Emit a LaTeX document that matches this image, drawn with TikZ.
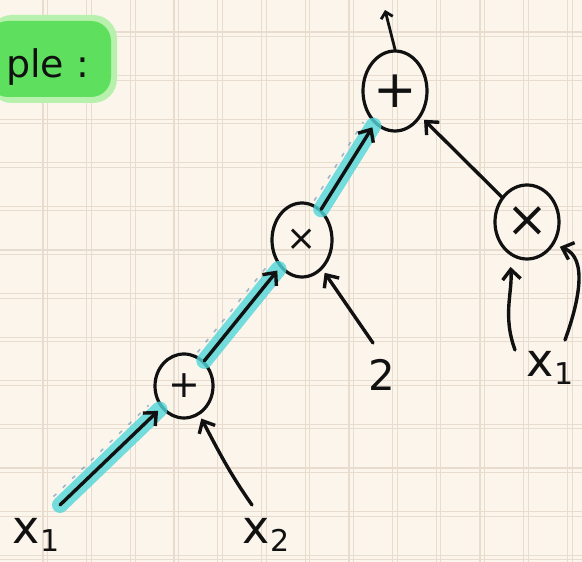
\documentclass[tikz,border=0pt]{standalone}
\usepackage{fontspec}
\setmainfont{DejaVu Sans}
\usetikzlibrary{arrows.meta,shapes.geometric}
\definecolor{paper}{HTML}{FBF5EC}
\definecolor{gridc}{HTML}{E8DCCF}
\definecolor{hlgreen}{HTML}{5EE05E}
\definecolor{hlgreenl}{HTML}{B8F0AE}
\definecolor{hlcyan}{HTML}{52D6D8}
\definecolor{hldash}{HTML}{6A8FB8}
\definecolor{ink}{HTML}{111111}
\newcommand{\fs}[1]{\fontsize{#1}{#1}\selectfont}
\newcommand{\varsub}[2]{x\raisebox{-8pt}{\fs{#1}#2}}
\begin{document}
\begin{tikzpicture}[x=1pt,y=1pt,
  opnode/.style={ellipse, draw=ink, line width=3.2pt, inner sep=0pt, text=ink},
  lbl/.style={inner sep=0pt, text=ink},
  arr/.style={draw=ink, line width=3.4pt, line cap=round, line join=round,
    -{Straight Barb[length=10pt,width=18pt]}, shorten >=4pt},
  smallarr/.style={draw=ink, line width=2.8pt, line cap=round,
    -{Straight Barb[length=6pt,width=12pt]}},
  hl/.style={draw=hlcyan, line width=16pt, line cap=round, opacity=0.8, shorten >=2pt},
  hldots/.style={draw=hldash, line width=1.6pt, dash pattern=on 4pt off 9pt, opacity=0.6,
    shorten >=6pt, shorten <=2pt},
]
\fill[paper] (0,0) rectangle (582,562);
\useasboundingbox (0,0) rectangle (582,562);
% grid paper
\foreach \k in {0,...,12} {
  \draw[gridc, line width=1.3pt] ({43+43.7*\k},0) -- ++(0,562);
  \draw[gridc, line width=0.8pt] ({47.5+43.7*\k},0) -- ++(0,562);
  \draw[gridc, line width=1.3pt] (0,{530-43.6*\k}) -- ++(582,0);
  \draw[gridc, line width=0.8pt] (0,{525.5-43.6*\k}) -- ++(582,0);
}
% green highlight
\fill[hlgreenl, rounded corners=24pt] (-12,459) rectangle (117,547);
\fill[hlgreen, rounded corners=20pt] (-12,465) rectangle (111,541);
\node[lbl, anchor=base west, font=\fs{38}] (ple) at (6,484) {ple :};

% operation nodes
\node[opnode, minimum width=64pt, minimum height=80pt, font=\fs{52}] (top) at (395,471) {+};
\node[opnode, minimum width=60pt, minimum height=74pt, font=\fs{36}] (m1) at (302,322) {×};
\node[opnode, minimum width=64pt, minimum height=74pt, font=\fs{50}] (r1) at (527,340) {×};
\node[opnode, minimum width=58pt, minimum height=64pt, font=\fs{38}] (p1) at (184,176) {+};

% labels
\node[lbl, font=\fs{46}] (x1l) at (36,27) {\varsub{30}{1}};
\node[lbl, font=\fs{46}] (x2l) at (266,27) {\varsub{30}{2}};
\node[lbl, font=\fs{42}] (two) at (382,187) {2};
\node[lbl, font=\fs{46}] (x1r) at (550,194) {\varsub{30}{1}};

% free ends of connectors
\coordinate (t1) at (60,57);
\coordinate (t2) at (373,219);
\coordinate (t3) at (252,57);
\coordinate (t4) at (515,212);
\coordinate (t5) at (565,222);
\coordinate (outp) at (385,552);

% cyan highlight of the path
\draw[hl] (t1) -- (p1);
\draw[hl] (p1) -- (m1);
\draw[hl] (m1) -- (top);
\begin{scope}[transform canvas={shift={(-8pt,7pt)}}]
  \draw[hldots] (t1) -- (p1);
  \draw[hldots] (p1) -- (m1);
  \draw[hldots] (m1) -- (top);
\end{scope}

% connectors
\draw[arr] (t1) -- (p1);
\draw[arr] (p1) -- (m1);
\draw[arr] (m1) -- (top);
\draw[arr] (r1) -- (top);
\draw[arr] (t2) -- (m1);
\draw[arr] (t3) to[out=125, in=-62] (p1);
\draw[arr, shorten >=12pt] (t4) to[out=110, in=-85] (r1.-118);
\draw[arr, shorten >=6pt] (t5) to[out=70, in=-20] (r1.-40);
\draw[smallarr] (top.north) -- (outp);
\end{tikzpicture}
\end{document}
